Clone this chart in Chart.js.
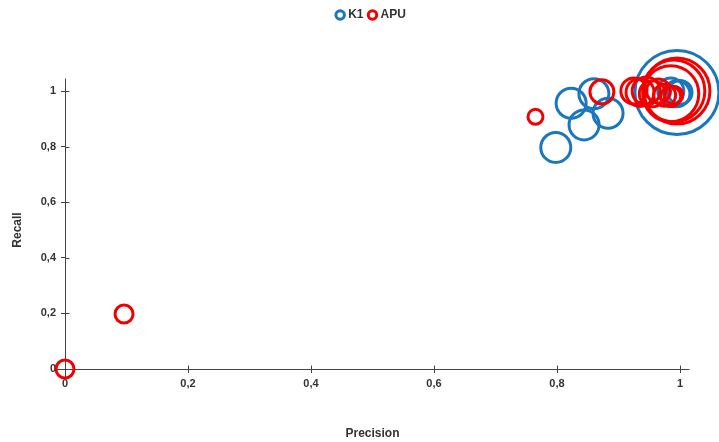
<!DOCTYPE html>
<html>
<head>
<meta charset="utf-8">
<script src="https://cdn.jsdelivr.net/npm/chart.js@4/dist/chart.umd.min.js"></script>
<style>
  html, body { margin: 0; padding: 0; background: #fff; }
  #wrap { width: 719px; height: 442px; }
</style>
</head>
<body>
<div id="wrap"><canvas id="c"></canvas></div>
<script>
// Series names
const seriesNames = ['K1', 'APU'];

// K1: precision, recall, bubble radius
const k1Precision = [0.798, 0.823, 0.844, 0.860, 0.883, 0.985, 0.995, 1.000, 0.995];
const k1Recall    = [0.797, 0.956, 0.878, 0.990, 0.920, 1.000, 0.990, 0.995, 0.995];
const k1Size      = [15, 15, 15, 15, 15, 13, 13, 12, 42];

// APU: precision, recall, bubble radius
const apuPrecision = [0, 0.096, 0.765, 0.873, 0.925, 0.935, 0.945, 0.955, 0.965, 0.985, 0.990, 0.995, 0.975, 0.985, 0.990];
const apuRecall    = [0, 0.198, 0.907, 0.997, 1.000, 0.995, 1.000, 0.990, 1.000, 0.990, 1.000, 1.000, 0.985, 0.980, 0.985];
const apuSize      = [9, 9, 7.5, 12, 13, 14, 14, 13, 12, 28, 31, 33, 11, 10, 9];

// Axis ticks and titles
const tickValues = [0, 0.2, 0.4, 0.6, 0.8, 1];
const tickLabels = ['0', '0,2', '0,4', '0,6', '0,8', '1'];
const xTitle = 'Precision';
const yTitle = 'Recall';

const blue = '#1a76bd';
const red = '#f20000';
const axisColor = '#444';
const textColor = '#333';
const fontFamily = 'Arial, "Liberation Sans", sans-serif';

const toPoints = (xs, ys, rs) => xs.map((x, i) => ({ x: x, y: ys[i], r: rs[i] }));

// Tick marks that cross the axis lines, and the axis lines running on past both ends
const crossTicks = {
  id: 'crossTicks',
  beforeDatasetsDraw(chart) {
    const { ctx, scales: { x, y } } = chart;
    const x0 = Math.round(x.getPixelForValue(0)) + 0.5;
    const y0 = Math.round(y.getPixelForValue(0)) + 0.5;
    const x1 = Math.round(x.getPixelForValue(1)) + 0.5;
    const y1 = Math.round(y.getPixelForValue(1)) + 0.5;
    ctx.save();
    ctx.strokeStyle = axisColor;
    ctx.lineWidth = 1;
    ctx.beginPath();
    tickValues.forEach(v => {
      const px = Math.round(x.getPixelForValue(v)) + 0.5;
      ctx.moveTo(px, y0 - 4); ctx.lineTo(px, y0);
      const py = Math.round(y.getPixelForValue(v)) + 0.5;
      ctx.moveTo(x0, py); ctx.lineTo(x0 + 4, py);
    });
    ctx.moveTo(x0 - 10, y0); ctx.lineTo(x1 + 9, y0);
    ctx.moveTo(x0, y0 + 8); ctx.lineTo(x0, y1 - 13);
    ctx.stroke();
    ctx.restore();
  }
};

// Extra room below the legend, and the legend centred over the plot
const legendPlacement = {
  id: 'legendPlacement',
  beforeInit(chart) {
    const fit = chart.legend.fit;
    chart.legend.fit = function () { fit.call(this); this.height += 60; };
  },
  afterLayout(chart) {
    const lg = chart.legend;
    const shift = 372 - (lg.left + lg.right) / 2;
    lg.left += shift;
    lg.right += shift;
  }
};

const fixedTicks = scale => { scale.ticks = tickValues.map(v => ({ value: v })); };
const tickLabel = value => tickLabels[tickValues.indexOf(value)];

new Chart(document.getElementById('c'), {
  type: 'bubble',
  data: {
    datasets: [
      {
        label: seriesNames[0],
        data: toPoints(k1Precision, k1Recall, k1Size),
        borderColor: blue,
        backgroundColor: 'rgba(255,255,255,0)',
        borderWidth: 3,
        clip: false,
        order: 1
      },
      {
        label: seriesNames[1],
        data: toPoints(apuPrecision, apuRecall, apuSize),
        borderColor: red,
        backgroundColor: 'rgba(255,255,255,0)',
        borderWidth: 3,
        clip: false,
        order: 0
      }
    ]
  },
  options: {
    responsive: true,
    maintainAspectRatio: false,
    animation: false,
    devicePixelRatio: 1,
    layout: { autoPadding: false, padding: { top: 2, left: 36, right: 39, bottom: 0 } },
    plugins: {
      tooltip: { enabled: false },
      legend: {
        position: 'top',
        labels: {
          usePointStyle: true,
          boxWidth: 4,
          boxHeight: 6,
          padding: 7,
          color: textColor,
          font: { family: fontFamily, size: 12, weight: 'bold' },
          sort: (a, b) => a.datasetIndex - b.datasetIndex
        }
      }
    },
    scales: {
      x: {
        type: 'linear',
        position: 'bottom',
        min: 0,
        max: 1,
        afterBuildTicks: fixedTicks,
        afterFit: s => { s.height = 73; },
        grid: { drawOnChartArea: false, drawTicks: true, tickLength: 4, color: axisColor },
        border: { display: true, color: axisColor },
        ticks: {
          padding: 4,
          maxRotation: 0,
          color: textColor,
          font: { family: fontFamily, size: 11, weight: 'bold' },
          callback: tickLabel
        },
        title: {
          display: true,
          text: xTitle,
          color: textColor,
          font: { family: fontFamily, size: 12, weight: 'bold' },
          padding: { top: 0, bottom: 0.8 }
        }
      },
      y: {
        type: 'linear',
        position: 'left',
        min: 0,
        max: 1,
        afterBuildTicks: fixedTicks,
        afterFit: s => { s.width = 29; },
        grid: { drawOnChartArea: false, drawTicks: true, tickLength: 4, color: axisColor },
        border: { display: true, color: axisColor },
        ticks: {
          padding: 5,
          color: textColor,
          font: { family: fontFamily, size: 11, weight: 'bold' },
          callback: tickLabel
        },
        title: {
          display: true,
          text: yTitle,
          color: textColor,
          font: { family: fontFamily, size: 12, weight: 'bold' },
          padding: { top: -25.2, bottom: 0 }
        }
      }
    }
  },
  plugins: [crossTicks, legendPlacement]
});
</script>
</body>
</html>
